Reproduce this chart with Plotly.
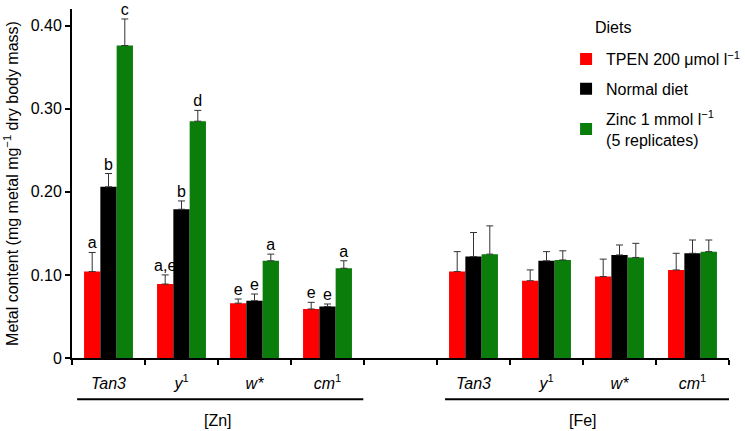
import plotly.graph_objects as go

# ---- data ----
categories = ["Zn_Tan3", "Zn_y1", "Zn_w", "Zn_cm1", "gap", "Fe_Tan3", "Fe_y1", "Fe_w", "Fe_cm1"]
tick_labels = ["<i>Tan3</i>", "<i>y</i><sup>1</sup>", "<i>w*</i>", "<i>cm</i><sup>1</sup>", "",
               "<i>Tan3</i>", "<i>y</i><sup>1</sup>", "<i>w*</i>", "<i>cm</i><sup>1</sup>"]
data_cats = ["Zn_Tan3", "Zn_y1", "Zn_w", "Zn_cm1", "Fe_Tan3", "Fe_y1", "Fe_w", "Fe_cm1"]
letter_cats = ["Zn_Tan3", "Zn_y1", "Zn_w", "Zn_cm1"]

tpen_vals = [0.104, 0.089, 0.066, 0.059, 0.104, 0.093, 0.098, 0.106]
tpen_err = [0.023, 0.011, 0.005, 0.008, 0.024, 0.013, 0.021, 0.020]
normal_vals = [0.206, 0.179, 0.069, 0.062, 0.122, 0.117, 0.124, 0.126]
normal_err = [0.016, 0.010, 0.008, 0.003, 0.029, 0.011, 0.012, 0.016]
zinc_vals = [0.376, 0.285, 0.117, 0.108, 0.125, 0.118, 0.121, 0.128]
zinc_err = [0.032, 0.013, 0.008, 0.009, 0.034, 0.011, 0.017, 0.014]

tpen_letters = ["a", "a,e", "e", "e"]
normal_letters = ["b", "b", "e", "e"]
zinc_letters = ["c", "d", "a", "a"]

series_names = ["TPEN 200 \u03bcmol l<sup>\u22121</sup>", "Normal diet",
                "Zinc 1 mmol l<sup>\u22121</sup><br>(5 replicates)"]
colors = ["#ff0000", "#000000", "#0a7d0a"]

y_ticks = [0, 0.10, 0.20, 0.30, 0.40]
y_tick_text = ["0", "0.10", "0.20", "0.30", "0.40"]

FONT = "Arial, 'Liberation Sans', sans-serif"
FS = 16

fig = go.Figure()
all_vals = [tpen_vals, normal_vals, zinc_vals]
all_err = [tpen_err, normal_err, zinc_err]
all_letters = [tpen_letters, normal_letters, zinc_letters]

for i in range(3):
    fig.add_trace(go.Bar(
        x=data_cats, y=all_vals[i], name=series_names[i],
        marker=dict(color=colors[i], line=dict(width=0)),
        offsetgroup=str(i), legendgroup=str(i),
        error_y=dict(type="data", array=all_err[i], arrayminus=[0] * len(all_err[i]),
                     symmetric=False, color="#333333", thickness=1, width=3.5),
    ))

for i in range(3):
    n = len(all_letters[i])
    tops = [v + e for v, e in zip(all_vals[i][:n], all_err[i][:n])]
    fig.add_trace(go.Scatter(
        x=letter_cats, y=tops, mode="text", text=all_letters[i],
        textposition="top center", textfont=dict(size=FS, color="#000000", family=FONT),
        offsetgroup=str(i), showlegend=False, hoverinfo="skip", cliponaxis=False,
    ))

fig.update_layout(
    width=745, height=431,
    margin=dict(l=72, r=16, t=9, b=73, autoexpand=False),
    paper_bgcolor="white", plot_bgcolor="white",
    font=dict(family=FONT, size=FS, color="#000000"),
    barmode="group", bargap=0.33, bargroupgap=0,
    scattermode="group", scattergap=0.33,
    legend=dict(
        x=0.752, xanchor="left", y=0.905, yanchor="top",
        font=dict(size=FS), tracegroupgap=6, bgcolor="rgba(0,0,0,0)",
        itemwidth=30, traceorder="grouped",
    ),
    showlegend=True,
)

fig.update_xaxes(
    type="category", categoryorder="array", categoryarray=categories,
    tickmode="array", tickvals=categories, ticktext=tick_labels,
    tickson="boundaries", ticks="outside", ticklen=5, tickwidth=2, tickcolor="#000000",
    showline=True, linecolor="#000000", linewidth=2, showgrid=False, zeroline=False,
    ticklabelstandoff=10, tickfont=dict(size=FS), range=[-0.5, 8.5], automargin=False,
)
fig.update_yaxes(
    range=[0, 0.42], tickmode="array", tickvals=y_ticks, ticktext=y_tick_text,
    ticks="outside", ticklen=5, tickwidth=2, tickcolor="#000000",
    showline=True, linecolor="#000000", linewidth=2, showgrid=False, zeroline=False,
    tickfont=dict(size=FS), automargin=False,
    title=dict(text="Metal content (mg metal mg<sup>\u22121</sup> dry body mass)",
               font=dict(size=FS), standoff=8),
)

# legend heading
fig.add_annotation(text="Diets", xref="paper", yref="paper", x=0.793, y=0.946,
                   xanchor="left", yanchor="middle", showarrow=False, font=dict(size=FS))

# group underlines and labels
fig.add_shape(type="line", xref="x", yref="paper", x0=-0.43, x1=3.49, y0=-0.118, y1=-0.118,
              line=dict(color="#000000", width=2))
fig.add_shape(type="line", xref="x", yref="paper", x0=4.61, x1=8.54, y0=-0.118, y1=-0.118,
              line=dict(color="#000000", width=2))
fig.add_annotation(text="[Zn]", xref="x", yref="paper", x=1.5, y=-0.178, showarrow=False,
                   font=dict(size=FS), yanchor="middle")
fig.add_annotation(text="[Fe]", xref="x", yref="paper", x=6.5, y=-0.178, showarrow=False,
                   font=dict(size=FS), yanchor="middle")

fig.write_html("out.html", config={"displayModeBar": False},
               post_script="document.body.style.margin='0';")
